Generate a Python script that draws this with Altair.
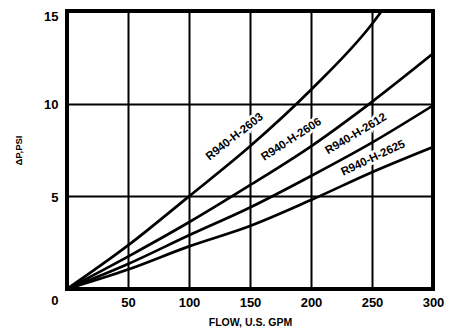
import altair as alt
import pandas as pd

# Pressure drop (psi) versus flow (US gpm) for each element
flow = [0, 50, 100, 150, 200, 250, 300]
flow_2603 = [0, 50, 100, 150, 200, 250, 258]
dp_2603 = [0, 2.35, 5.0, 7.7, 10.75, 14.3, 15.0]
dp_2606 = [0, 1.75, 3.6, 5.6, 7.7, 10.1, 12.7]
dp_2612 = [0, 1.35, 2.9, 4.4, 6.1, 7.9, 9.9]
dp_2625 = [0, 1.05, 2.3, 3.4, 4.8, 6.3, 7.66]

models = ["R940-H-2603", "R940-H-2606", "R940-H-2612", "R940-H-2625"]
series = [(flow_2603, dp_2603), (flow, dp_2606), (flow, dp_2612), (flow, dp_2625)]

rows = []
for name, (xs, ys) in zip(models, series):
    for q, p in zip(xs, ys):
        rows.append({"model": name, "flow": q, "dp": p})
df = pd.DataFrame(rows)

FONT = "Liberation Sans"

x_scale = alt.Scale(domain=[0, 300], nice=False, zero=True)
y_scale = alt.Scale(domain=[0, 15], nice=False, zero=True)

x_axis = alt.Axis(
    values=[50, 100, 150, 200, 250, 300],
    title="FLOW, U.S. GPM",
    labelFont=FONT, labelFontSize=13, labelFontWeight="bold", labelColor="black",
    titleFont=FONT, titleFontSize=10.5, titleFontWeight="bold", titleColor="black",
    grid=True, gridColor="black", gridWidth=2, gridOpacity=1,
    ticks=False, domain=False, labelPadding=7, titlePadding=8, labelFlush=False,
)
y_axis = alt.Axis(
    values=[0, 5, 10, 15],
    title="ΔP,PSI",
    labelFont=FONT, labelFontSize=13, labelFontWeight="bold", labelColor="black",
    labelOffset={
        "condition": [
            {"test": "datum.value === 0", "value": 11},
            {"test": "datum.value === 15", "value": 5},
        ],
        "value": 1,
    },
    titleFont=FONT, titleFontSize=9.5, titleFontWeight="bold", titleColor="black",
    grid=True, gridColor="black", gridWidth=2, gridOpacity=1,
    ticks=False, domain=False, labelPadding=9, titlePadding=20, labelFlush=False,
)

lines = alt.Chart(df).mark_line(
    color="black", strokeWidth=2.7, interpolate="monotone", clip=True
).encode(
    x=alt.X("flow:Q", scale=x_scale, axis=x_axis),
    y=alt.Y("dp:Q", scale=y_scale, axis=y_axis),
    detail="model:N",
)


def curve_label(text, q, p, angle):
    one = pd.DataFrame({"model": [text]})
    style = dict(font=FONT, fontSize=11.5, fontWeight="bold",
                 align="center", baseline="middle", angle=angle)
    enc = dict(x=alt.datum(q), y=alt.datum(p), text="model:N")
    # white knockout behind the lettering so grid lines break around it
    halo = alt.Chart(one).mark_text(
        color="white", stroke="white", strokeWidth=5, **style
    ).encode(**enc)
    ink = alt.Chart(one).mark_text(color="black", **style).encode(**enc)
    return alt.layer(halo, ink)


labels = [
    curve_label("R940-H-2603", 137.5, 8.2, 322),
    curve_label("R940-H-2606", 184, 8.05, 327),
    curve_label("R940-H-2612", 237, 8.35, 329),
    curve_label("R940-H-2625", 251, 7.05, 335),
]

chart = alt.layer(lines, *labels).properties(
    width=366,
    height=278,
    autosize=alt.AutoSizeParams(type="none"),
    padding={"left": 67, "top": 11, "right": 17, "bottom": 40},
    background="white",
).configure_view(stroke="black", strokeWidth=4)

chart.save("out.html", embed_options={"renderer": "svg", "actions": False})
